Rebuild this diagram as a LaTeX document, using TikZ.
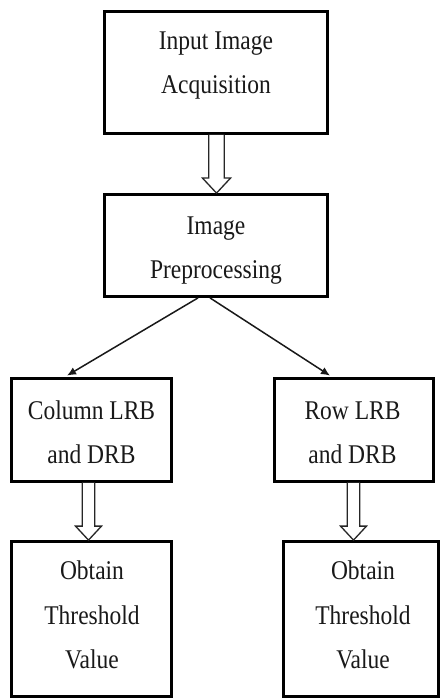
\documentclass[tikz,border=0pt]{standalone}
\usepackage{fontspec}
\setmainfont{Liberation Serif}
\usetikzlibrary{calc,arrows.meta}
\tikzset{
  box/.style={draw=black, line width=2.8pt, inner sep=0pt, fill=white},
  txt/.style={align=center, inner sep=0pt, font=\fontsize{23.5}{38.3}\selectfont, text=black!90, yscale=1.15, transform shape},
  hollow/.style={draw=black!85, line width=1.3pt, fill=white, line join=miter},
  link/.style={draw=black!90, line width=1.5pt, -{Latex[length=9pt,width=8pt]}}
}
\newcommand{\hollowarr}[5]{% #1 start coord, #2 tip coord, #3 shaft half, #4 head half, #5 head length
  \draw[hollow] ($(#1)+(-#3,0)$) -- ($(#2)+(-#3,-#5)$) -- ($(#2)+(-#4,-#5)$) -- (#2)
    -- ($(#2)+(#4,-#5)$) -- ($(#2)+(#3,-#5)$) -- ($(#1)+(#3,0)$);
}
\begin{document}
\begin{tikzpicture}[x=1pt,y=-1pt]
\useasboundingbox (0,0) rectangle (441,700);
\fill[white] (0,0) rectangle (441,700);

\node[box, minimum width=223pt, minimum height=122pt] (b1) at (216,72.5) {};
\node[box, minimum width=223pt, minimum height=102pt] (b2) at (216,245.5) {};
\node[box, minimum width=160pt, minimum height=103pt] (b3l) at (91.5,430) {};
\node[box, minimum width=159pt, minimum height=103pt] (b3r) at (354,430) {};
\node[box, minimum width=160pt, minimum height=155pt] (b4l) at (91.5,619) {};
\node[box, minimum width=155pt, minimum height=155pt] (b4r) at (361,619) {};

\node[txt] (t1) at (216,62.7) {\strut Input Image\\\strut Acquisition};
\node[txt] (t2) at (216,247.7) {\strut Image\\\strut Preprocessing};
\node[txt] (t3l) at (91.5,432.7) {\strut Column LRB\\\strut and DRB};
\node[txt] (t3r) at (352.5,432.7) {\strut Row LRB\\\strut and DRB};
\node[txt] (t4l) at (92,615.2) {\strut Obtain\\\strut Threshold\\\strut Value};
\node[txt] (t4r) at (363,615.2) {\strut Obtain\\\strut Threshold\\\strut Value};

% hollow arrows
\coordinate (s1) at ($(b1.south)+(0.5,0)$);
\coordinate (e1) at (s1 |- b2.north);
\coordinate (s2) at ($(b3l.south)+(-3,0)$);
\coordinate (e2) at (s2 |- b4l.north);
\coordinate (s3) at ($(b3r.south)+(-0.5,0)$);
\coordinate (e3) at (s3 |- b4r.north);
\hollowarr{s1}{e1}{7.8}{14}{15}
\hollowarr{s2}{e2}{6.3}{13}{14}
\hollowarr{s3}{e3}{6.3}{13}{14}

% branching arrows
\draw[link] ($(b2.south)+(-18,0)$) -- ($(b3l.north)+(-24.5,-1.5)$);
\draw[link] ($(b2.south)+(-6,0)$) -- ($(b3r.north)+(-24,-1.5)$);
\end{tikzpicture}
\end{document}
